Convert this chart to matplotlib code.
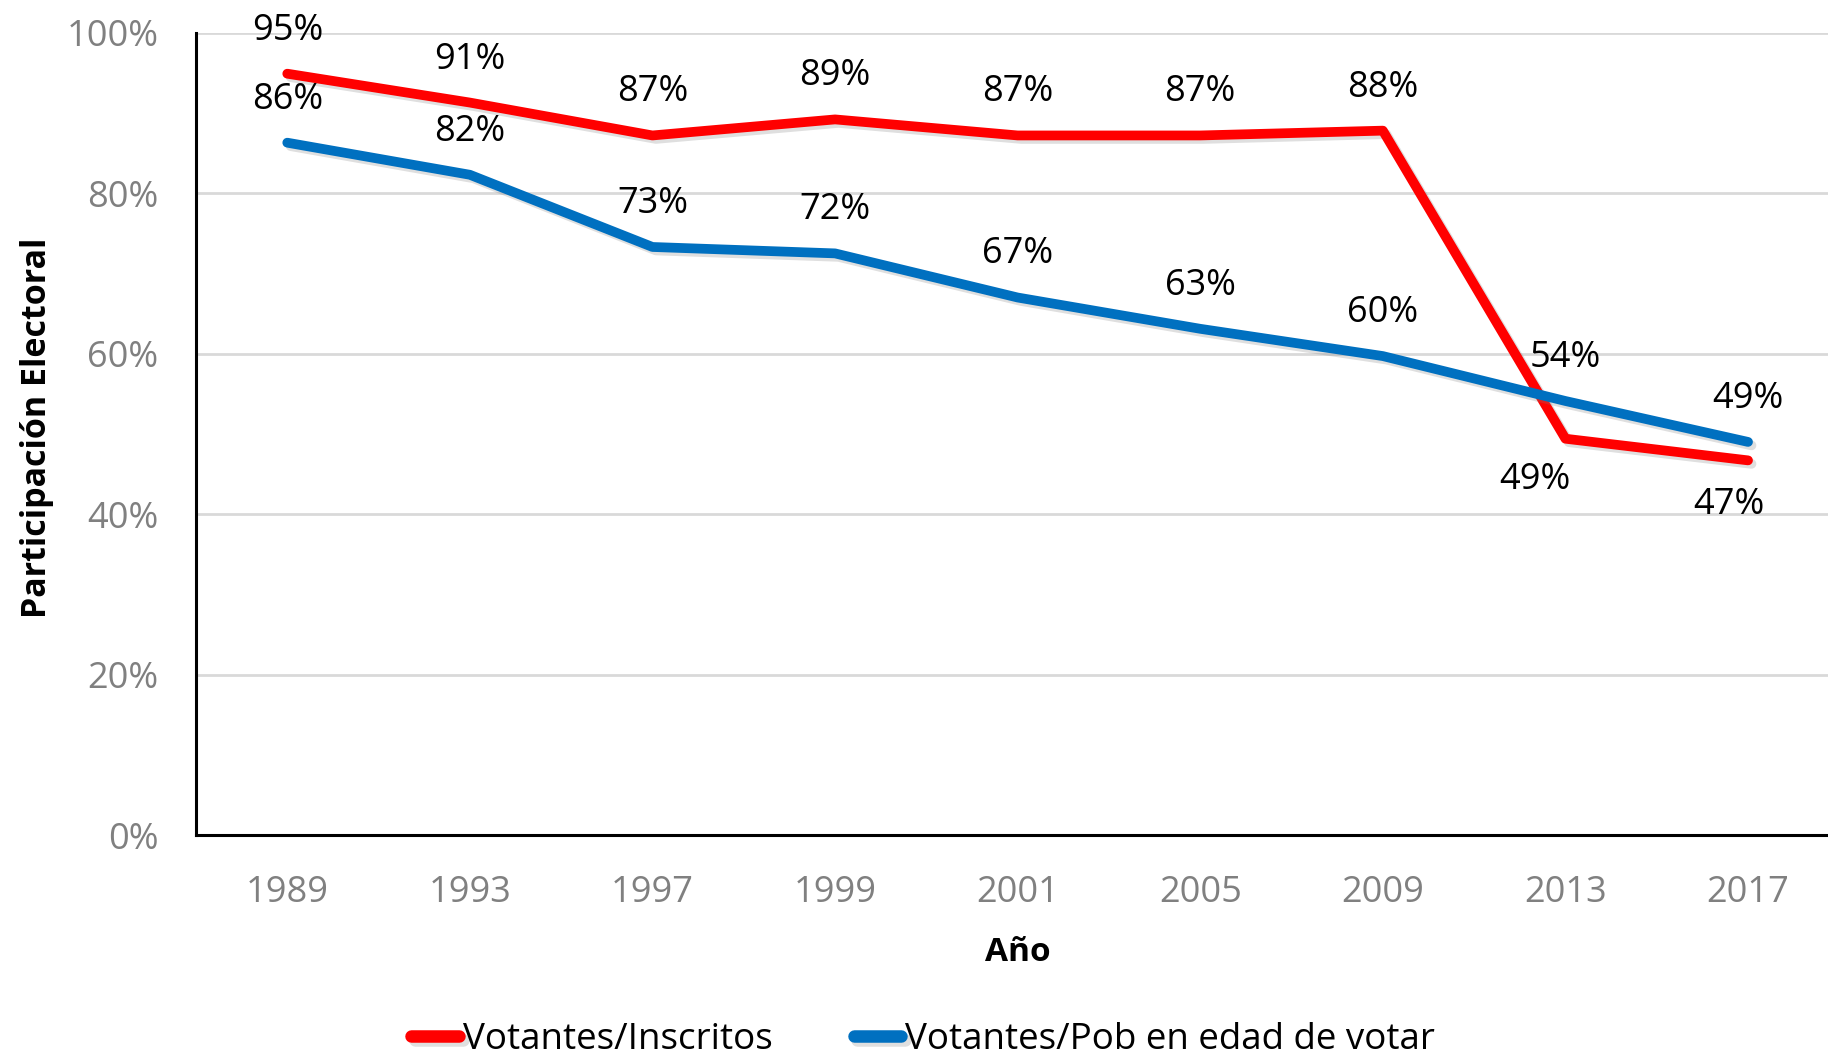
import matplotlib
matplotlib.use("Agg")
import matplotlib.pyplot as plt
import matplotlib.patheffects as pe
from matplotlib.ticker import FuncFormatter

years = ["1989", "1993", "1997", "1999", "2001", "2005", "2009", "2013", "2017"]
inscritos = [95, 91, 87, 89, 87, 87, 88, 49, 47]           # Votantes/Inscritos
pob_edad = [86, 82, 73, 72, 67, 63, 60, 54, 49]            # Votantes/Pob en edad de votar
inscritos_plot = [94.9, 91.3, 87.2, 89.2, 87.2, 87.2, 87.8, 49.4, 46.7]
pob_edad_plot = [86.3, 82.3, 73.3, 72.5, 67.0, 63.1, 59.7, 54.1, 49.0]

RED = "#FF0000"
BLUE = "#0070C0"
FONT = ["Open Sans", "DejaVu Sans"]

fig = plt.figure(figsize=(18.28, 10.57), dpi=100)
ax = fig.add_axes([0.1072, 0.21, 0.899, 0.759])

x = list(range(len(years)))
shadow = [pe.SimpleLineShadow(offset=(2.5, -2.5), alpha=0.25, shadow_color="gray"), pe.Normal()]
ax.plot(x, inscritos_plot, color=RED, lw=7, solid_capstyle="round",
        solid_joinstyle="round", path_effects=shadow, label="Votantes/Inscritos", zorder=3)
ax.plot(x, pob_edad_plot, color=BLUE, lw=7, solid_capstyle="round",
        solid_joinstyle="round", path_effects=shadow, label="Votantes/Pob en edad de votar", zorder=3)

# data labels (red: above except the last two, below)
for i, (v, yv) in enumerate(zip(inscritos, inscritos_plot)):
    if i == 7:
        off = (-22, -30)
    elif i == 8:
        off = (-14, -32)
    else:
        off = (0, 31)
    ax.annotate(f"{v}%", (i, yv), xytext=off, textcoords="offset points",
                ha="center", va="center", fontsize=26, family=FONT)
for i, (v, yv) in enumerate(zip(pob_edad, pob_edad_plot)):
    ax.annotate(f"{v}%", (i, yv), xytext=(0, 31), textcoords="offset points",
                ha="center", va="center", fontsize=26, family=FONT)

ax.set_xlim(-0.5, len(years) - 0.5)
ax.set_ylim(0, 100)
ax.set_yticks(range(0, 101, 20))
ax.yaxis.set_major_formatter(FuncFormatter(lambda v, p: f"{v:.0f}%"))
ax.set_xticks(x)
ax.set_xticklabels(years)
for lab in ax.get_xticklabels() + ax.get_yticklabels():
    lab.set_family(FONT)
    lab.set_fontsize(26)
    lab.set_color("#808080")
ax.tick_params(axis="both", length=0)
ax.tick_params(axis="x", pad=29)
ax.tick_params(axis="y", pad=27)

ax.grid(axis="y", color="#D9D9D9", lw=2)
ax.set_axisbelow(True)
for s in ["top", "right"]:
    ax.spines[s].set_visible(False)
ax.spines["left"].set_linewidth(2.2)
ax.spines["bottom"].set_linewidth(2.2)
ax.spines["left"].set_zorder(4)

ax.set_xlabel("Año", fontsize=24, fontweight="bold", family=FONT, labelpad=18)
fig.text(0.02, 0.595, "Participación Electoral", rotation=90, ha="center", va="center",
         fontsize=24.5, fontweight="bold", family=FONT)

leg = fig.legend(loc="center", bbox_to_anchor=(0.505, 0.016), ncol=2, frameon=False,
                 prop={"family": FONT, "size": 26.5}, handlelength=1.3,
                 handletextpad=0.1, columnspacing=2.2)
for h in leg.get_lines():
    h.set_linewidth(9)

fig.savefig("out.png", dpi=100)
